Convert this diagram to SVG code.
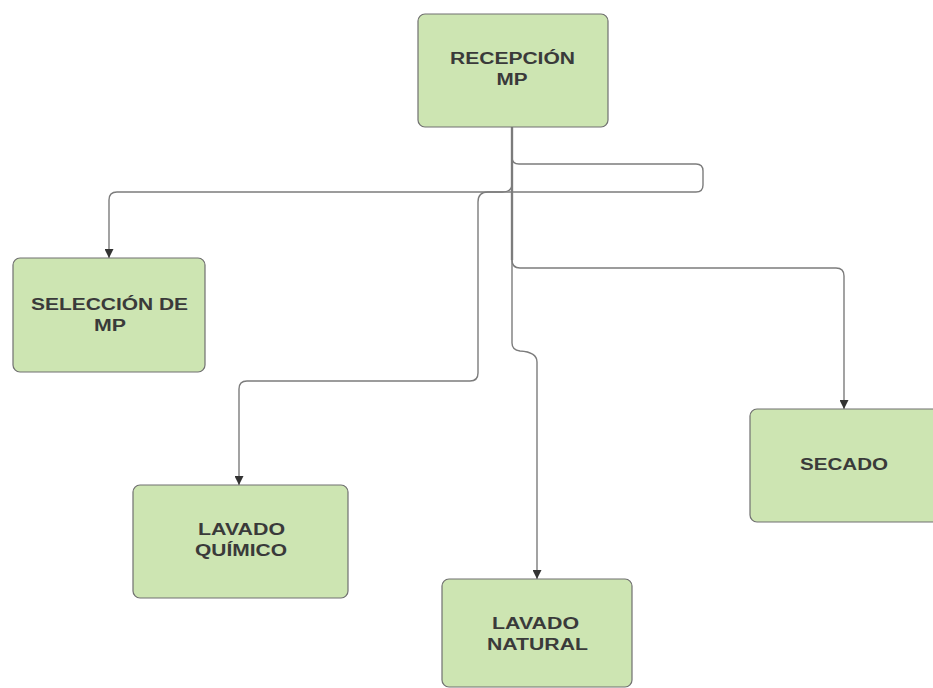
<svg xmlns="http://www.w3.org/2000/svg" width="933" height="688" viewBox="0 0 933 688">
  <style>
    .box { fill: #cde5b2; stroke: #707070; stroke-width: 1.2; }
    .lbl { font-family: "Liberation Sans", Arial, sans-serif; font-weight: bold; font-size: 16px; fill: #3a3a3a; text-anchor: middle; }
    .edge { fill: none; stroke: #7c7c7c; stroke-width: 1.4; }
    .trunk { fill: none; stroke: #8a8a8a; stroke-width: 2.4; }
  </style>
  <defs>
    <marker id="arrow" viewBox="0 0 10 10" refX="10" refY="5" markerWidth="10" markerHeight="9" markerUnits="userSpaceOnUse" orient="auto">
      <path d="M0,0 L10,5 L0,10 Z" fill="#333333"/>
    </marker>
  </defs>
  <rect width="933" height="688" fill="#ffffff"/>

  <!-- connectors -->
  <g id="connectors">
    <!-- shared stem under RECEPCIÓN MP -->
    <path class="trunk" d="M512,127 V260"/>
    <!-- to SELECCIÓN DE MP: loops right, then back left -->
    <path class="edge" marker-end="url(#arrow)" d="M512,127 V157 Q512,164 519,164 H696 Q703,164 703,171 V185 Q703,192 696,192 H117 Q109,192 109,200 V258"/>
    <!-- to LAVADO QUÍMICO -->
    <path class="edge" marker-end="url(#arrow)" d="M512,127 V184 Q512,192 502,192 H488 Q478,192 478,202 V373 Q478,381 470,381 H247 Q239,381 239,389 V485"/>
    <!-- to SECADO -->
    <path class="edge" marker-end="url(#arrow)" d="M512,127 V260 Q512,268 520,268 H836 Q844,268 844,276 V409"/>
    <!-- to LAVADO NATURAL -->
    <path class="edge" marker-end="url(#arrow)" d="M512,127 V343 Q512,350 520,351 Q537,352 537,362 V579"/>
  </g>

  <g id="recepcion">
    <rect class="box" x="418" y="14" width="190" height="113" rx="7"/>
    <text class="lbl" x="512.5" y="64" textLength="125" lengthAdjust="spacingAndGlyphs">RECEPCIÓN</text>
    <text class="lbl" x="512" y="85" textLength="31" lengthAdjust="spacingAndGlyphs">MP</text>
  </g>

  <g id="seleccion">
    <rect class="box" x="13" y="258" width="192" height="114" rx="7"/>
    <text class="lbl" x="109.5" y="310" textLength="157" lengthAdjust="spacingAndGlyphs">SELECCIÓN DE</text>
    <text class="lbl" x="110" y="331" textLength="32" lengthAdjust="spacingAndGlyphs">MP</text>
  </g>

  <g id="lavado-quimico">
    <rect class="box" x="133" y="485" width="215" height="113" rx="7"/>
    <text class="lbl" x="241.5" y="535" textLength="87" lengthAdjust="spacingAndGlyphs">LAVADO</text>
    <text class="lbl" x="241" y="556" textLength="92" lengthAdjust="spacingAndGlyphs">QUÍMICO</text>
  </g>

  <g id="lavado-natural">
    <rect class="box" x="442" y="579" width="190" height="108" rx="7"/>
    <text class="lbl" x="535.5" y="629" textLength="87" lengthAdjust="spacingAndGlyphs">LAVADO</text>
    <text class="lbl" x="537.5" y="650" textLength="101" lengthAdjust="spacingAndGlyphs">NATURAL</text>
  </g>

  <g id="secado">
    <rect class="box" x="750" y="409" width="200" height="113" rx="7"/>
    <text class="lbl" x="844" y="470" textLength="88" lengthAdjust="spacingAndGlyphs">SECADO</text>
  </g>
</svg>
